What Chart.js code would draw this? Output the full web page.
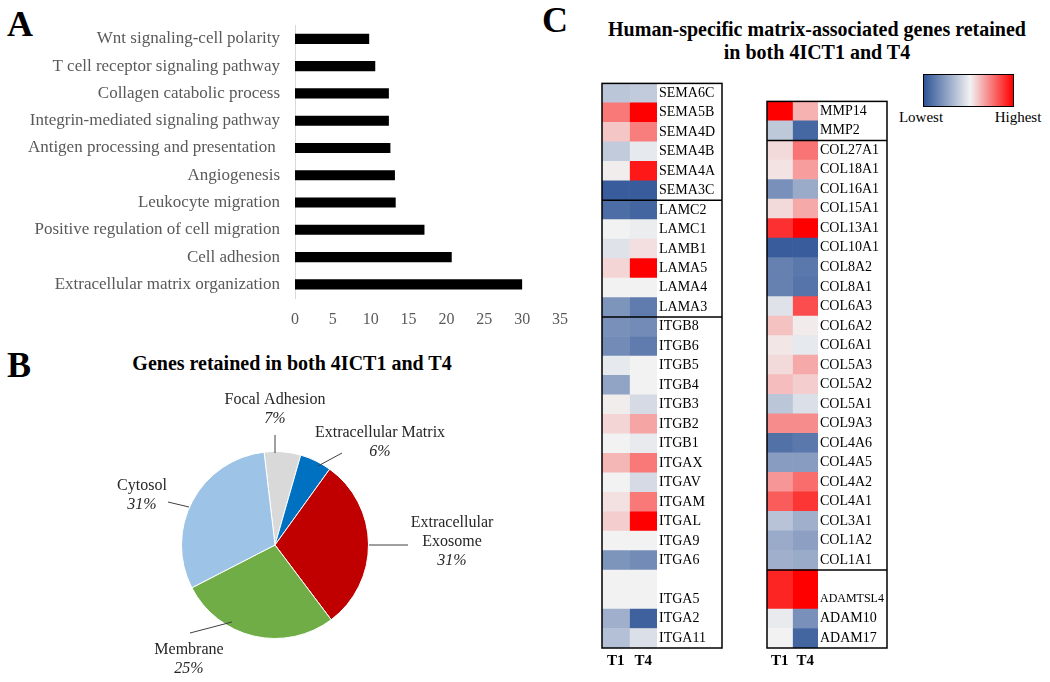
<!DOCTYPE html>
<html><head><meta charset="utf-8">
<script src="https://cdn.jsdelivr.net/npm/chart.js@4"></script>
<style>
body{margin:0;width:1050px;height:682px;overflow:hidden;background:#fff;position:relative;font-family:'Liberation Serif','Times New Roman',serif}
.abs{position:absolute}
.letter{font-weight:bold;font-size:36px;line-height:36px;color:#000}
.title{font-weight:bold;font-size:20px;line-height:23px;text-align:center;color:#000;white-space:nowrap}
.leg{font-size:15px;line-height:18px;color:#000;text-align:center;width:70px}
canvas{position:absolute}
</style></head><body>
<div class="abs letter" style="left:7px;top:6px">A</div>
<div class="abs letter" style="left:7px;top:347px">B</div>
<div class="abs letter" style="left:542px;top:2px">C</div>
<div class="abs title" style="left:92px;top:352px;width:400px">Genes retained in both 4ICT1 and T4</div>
<div class="abs title" style="left:567px;top:18px;width:500px">Human-specific matrix-associated genes retained<br>in both 4ICT1 and T4</div>
<div class="abs" style="left:923px;top:74px;width:91px;height:33px;box-sizing:border-box;border:1.5px solid #000;background:linear-gradient(to right,#2f5597 0%,#f2f2f2 52%,#ff0000 100%)"></div>
<div class="abs leg" style="left:886px;top:108px">Lowest</div>
<div class="abs leg" style="left:983px;top:108px">Highest</div>

<canvas id="cA" width="580" height="335" style="left:0;top:0"></canvas>
<canvas id="cB" width="480" height="320" style="left:35px;top:385px"></canvas>
<canvas id="cH1" width="124" height="600" style="left:600px;top:73px"></canvas>
<canvas id="cH2" width="124" height="582" style="left:765px;top:91px"></canvas>

<script>
// ---------- Panel A data ----------
const goTerms = ['Wnt signaling-cell polarity','T cell receptor signaling pathway','Collagen catabolic process','Integrin-mediated signaling pathway','Antigen processing and presentation ','Angiogenesis','Leukocyte migration','Positive regulation of cell migration','Cell adhesion','Extracellular matrix organization'];
const goValues = [9.8, 10.6, 12.4, 12.4, 12.6, 13.2, 13.3, 17.1, 20.7, 30];

// ---------- Panel B data ----------
const pieCats = ['Focal Adhesion','Extracellular Matrix','Extracellular\nExosome','Membrane','Cytosol'];
const pieShares = [6.3, 5.5, 29.8, 27.7, 30.7];
const piePct = ['7%','6%','31%','25%','31%'];

// ---------- Panel C data (relative level, -1 lowest .. +1 highest) ----------
const seriesNames = ['T1','T4'];
const genesLeft = ['SEMA6C','SEMA5B','SEMA4D','SEMA4B','SEMA4A','SEMA3C','LAMC2','LAMC1','LAMB1','LAMA5','LAMA4','LAMA3','ITGB8','ITGB6','ITGB5','ITGB4','ITGB3','ITGB2','ITGB1','ITGAX','ITGAV','ITGAM','ITGAL','ITGA9','ITGA6','ITGA5','ITGA2','ITGA11'];
const t1Left = [-0.28,0.5,0.18,-0.25,0.02,-0.95,-0.85,0,-0.1,0.12,0,-0.6,-0.62,-0.65,-0.06,-0.5,0.02,0.12,0,0.25,0,0.07,0.15,0,-0.6,0,-0.42,-0.32];
const t4Left = [-0.25,1,0.48,-0.06,0.9,-0.95,-0.9,-0.03,0.08,1,0,-0.75,-0.65,-0.75,0,0,-0.15,0.32,-0.05,0.5,-0.15,0.5,1,0,-0.65,0,-0.92,-0.12];
const groupEndsLeft = ['SEMA3C','LAMA3'];

const genesRight = ['MMP14','MMP2','COL27A1','COL18A1','COL16A1','COL15A1','COL13A1','COL10A1','COL8A2','COL8A1','COL6A3','COL6A2','COL6A1','COL5A3','COL5A2','COL5A1','COL9A3','COL4A6','COL4A5','COL4A2','COL4A1','COL3A1','COL1A2','COL1A1','ADAMTSL4','ADAM10','ADAM17'];
const t1Right = [1,-0.27,0.1,0.06,-0.62,0.1,0.8,-0.95,-0.72,-0.72,-0.1,0.2,0.05,0.1,0.22,-0.28,0.42,-0.82,-0.55,0.38,0.62,-0.3,-0.45,-0.42,0.85,-0.05,0];
const t4Right = [0.27,-0.88,0.52,0.35,-0.45,0.3,1,-0.95,-0.78,-0.8,0.68,0.03,-0.06,0.3,0.15,-0.12,0.42,-0.78,-0.55,0.55,0.78,-0.42,-0.52,-0.45,1,-0.62,-0.9];
const groupEndsRight = ['MMP2','COL1A1'];
const tallGenes = ['ITGA5','ADAMTSL4']; // cells drawn two rows high in the figure

const FONT = "'Liberation Serif','Times New Roman',serif";
Chart.defaults.font.family = FONT;
Chart.defaults.animation = false;

// ---------- Panel A ----------
new Chart(document.getElementById('cA'), {
  type: 'bar',
  data: { labels: goTerms, datasets: [{ data: goValues, backgroundColor: '#000', barPercentage: 0.37, categoryPercentage: 1 }] },
  options: {
    indexAxis: 'y', responsive: false,
    layout: { padding: { top: 22, right: 15, left: 0, bottom: 0 } },
    plugins: { legend: { display: false }, tooltip: { enabled: false } },
    scales: {
      y: { grid: { display: false, drawTicks: false }, border: { display: true, color: '#d9d9d9', width: 1 },
           ticks: { color: '#595959', font: { size: 17, family: FONT }, padding: 15, autoSkip: false },
           afterFit: s => { s.width = 295; } },
      x: { min: 0, max: 35, grid: { display: false, drawTicks: false }, border: { display: false },
           ticks: { stepSize: 5, color: '#595959', font: { size: 16, family: FONT }, padding: 12 },
           afterFit: s => { s.height = 37; } }
    }
  }
});

// ---------- Panel B ----------
const pieLayout = [ // label anchor (first line centre) and leader line, offsets from pie centre
  { t: [0, -145], l: [[0, -110], [0, -92]] },
  { t: [105, -112], l: [[67, -92], [43, -79]] },
  { t: [177, -22], l: [[94, 0], [133, 0]] },
  { t: [-86, 105], l: [[-85, 88], [-43, 77]] },
  { t: [-133, -59], l: [[-107, -43], [-86, -38]] }
];
const pieLabelPlugin = {
  id: 'pieLabels',
  afterDraw(chart) {
    const arc = chart.getDatasetMeta(0).data[0];
    const cx = arc.x, cy = arc.y, ctx = chart.ctx;
    ctx.save();
    ctx.strokeStyle = '#404040'; ctx.lineWidth = 1;
    ctx.fillStyle = '#262626'; ctx.textAlign = 'center'; ctx.textBaseline = 'middle';
    pieCats.forEach((name, i) => {
      const L = pieLayout[i];
      ctx.beginPath();
      ctx.moveTo(cx + L.l[0][0], cy + L.l[0][1]);
      ctx.lineTo(cx + L.l[1][0], cy + L.l[1][1]);
      ctx.stroke();
      const lines = name.split('\n');
      ctx.font = `16px ${FONT}`;
      lines.forEach((ln, k) => ctx.fillText(ln, cx + L.t[0], cy + L.t[1] + k * 19));
      ctx.font = `italic 16px ${FONT}`;
      ctx.fillText(piePct[i], cx + L.t[0], cy + L.t[1] + lines.length * 19);
    });
    ctx.restore();
  }
};
new Chart(document.getElementById('cB'), {
  type: 'pie',
  data: { labels: pieCats, datasets: [{ data: pieShares,
    backgroundColor: ['#d9d9d9', '#0070c0', '#c00000', '#70ad47', '#9dc3e6'],
    borderColor: '#ffffff', borderWidth: 1 }] },
  options: {
    responsive: false, rotation: -6.7,
    layout: { padding: { left: 146, right: 146, top: 66, bottom: 66 } },
    plugins: { legend: { display: false }, tooltip: { enabled: false } }
  },
  plugins: [pieLabelPlugin]
});

// ---------- Panel C ----------
const measureCtx = document.createElement('canvas').getContext('2d');
function fitSize(label, maxW, base) {
  measureCtx.font = `${base}px ${FONT}`;
  const w = measureCtx.measureText(label || '').width;
  return w > maxW ? base * maxW / w : base;
}
function heatColor(v) {
  const base = [242, 242, 242], lo = [47, 85, 151], hi = [255, 0, 0];
  const t = Math.min(1, Math.abs(v)), tg = v < 0 ? lo : hi;
  const c = base.map((b, i) => Math.round(b + (tg[i] - b) * t));
  return `rgb(${c[0]},${c[1]},${c[2]})`;
}
function buildRows(genes, a, b) {
  const labels = [], va = [], vb = [];
  genes.forEach((g, i) => {
    if (tallGenes.includes(g)) { labels.push(''); va.push(a[i]); vb.push(b[i]); }
    labels.push(g); va.push(a[i]); vb.push(b[i]);
  });
  return { labels, va, vb };
}
const boxPlugin = {
  id: 'box',
  afterDraw(chart) {
    const ctx = chart.ctx, ca = chart.chartArea, y = chart.scales.y;
    const right = chart.width - 2;
    const ends = chart.options.plugins.box.groupEnds;
    ctx.save();
    ctx.strokeStyle = '#000'; ctx.lineWidth = 1.5;
    ctx.strokeRect(ca.left, ca.top, right - ca.left, ca.bottom - ca.top);
    const labels = chart.data.labels;
    ends.forEach(g => {
      const i = labels.indexOf(g);
      const yy = (y.getPixelForValue(i) + y.getPixelForValue(i + 1)) / 2;
      ctx.beginPath(); ctx.moveTo(ca.left, yy); ctx.lineTo(right, yy); ctx.stroke();
    });
    ctx.restore();
  }
};
function heatmap(id, genes, a, b, ends, axisW) {
  const r = buildRows(genes, a, b);
  new Chart(document.getElementById(id), {
    type: 'bar',
    data: { labels: r.labels, datasets: [
      { label: seriesNames[0], data: r.labels.map(() => 1), backgroundColor: r.va.map(heatColor), borderWidth: 0, barPercentage: 1, categoryPercentage: 1 },
      { label: seriesNames[1], data: r.labels.map(() => 1), backgroundColor: r.vb.map(heatColor), borderWidth: 0, barPercentage: 1, categoryPercentage: 1 }
    ] },
    options: {
      indexAxis: 'y', responsive: false,
      layout: { padding: { left: 2, right: 2, top: 2, bottom: 0 } },
      plugins: { legend: { display: false }, tooltip: { enabled: false }, box: { groupEnds: ends } },
      scales: {
        y: { position: 'right', stacked: true, grid: { display: false, drawTicks: false }, border: { display: false },
             ticks: { autoSkip: false, color: '#000', padding: 2,
                      font: c => ({ size: fitSize(c.tick ? c.tick.label : '', axisW - 5, 14), family: FONT }) },
             afterFit: s => { s.width = axisW; } },
        x: { min: 0, max: 2, stacked: true, grid: { display: false, drawTicks: false }, border: { display: false },
             afterBuildTicks: s => { s.ticks = [{ value: 0.5 }, { value: 1.5 }]; },
             ticks: { color: '#000', font: { size: 15, weight: 'bold', family: FONT }, padding: 4,
                      callback: (v, i) => seriesNames[i] },
             afterFit: s => { s.height = 25; } }
      }
    },
    plugins: [boxPlugin]
  });
}
heatmap('cH1', genesLeft, t1Left, t4Left, groupEndsLeft, 65);
heatmap('cH2', genesRight, t1Right, t4Right, groupEndsRight, 69);
</script>
</body></html>
